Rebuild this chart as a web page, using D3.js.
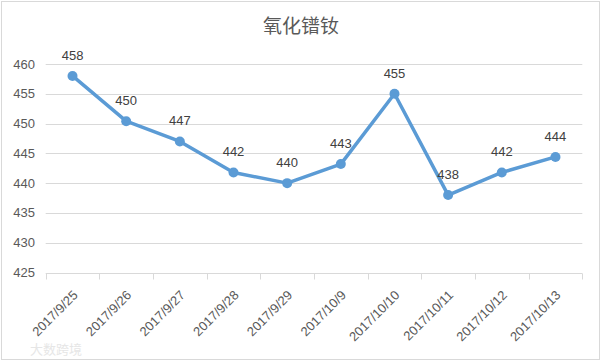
<!DOCTYPE html>
<html>
<head>
<meta charset="utf-8">
<script src="https://cdn.jsdelivr.net/npm/d3@7/dist/d3.min.js"></script>
<style>
  body { margin: 0; background: #fff; }
  svg text { font-family: "Liberation Sans", Arial, sans-serif; }
</style>
</head>
<body>
<div id="chart"></div>
<script>
// data
var dates = ["2017/9/25", "2017/9/26", "2017/9/27", "2017/9/28", "2017/9/29",
             "2017/10/9", "2017/10/10", "2017/10/11", "2017/10/12", "2017/10/13"];
var prices = [458, 450.4, 447, 441.8, 440, 443.2, 455, 438, 441.8, 444.4];
var yTicks = [425, 430, 435, 440, 445, 450, 455, 460];

var W = 602, H = 362;
var margin = {top: 64, right: 20, bottom: 90, left: 46};

var svg = d3.select("#chart").append("svg")
    .attr("width", W)
    .attr("height", H);

// outer border
svg.append("rect")
    .attr("x", 1.5).attr("y", 1.5)
    .attr("width", W - 4).attr("height", H - 4)
    .attr("fill", "#fff")
    .attr("stroke", "#d9d9d9");

var x = d3.scaleBand()
    .domain(dates)
    .range([45.7, 582.3])
    .padding(0);

var y = d3.scaleLinear()
    .domain([425, 460])
    .range([272.5, 64]);

// gridlines
svg.selectAll(".grid")
    .data(yTicks.slice(1))
  .enter().append("line")
    .attr("class", "grid")
    .attr("x1", x.range()[0])
    .attr("x2", x.range()[1])
    .attr("y1", function(d) { return Math.round(y(d)) + 0.5; })
    .attr("y2", function(d) { return Math.round(y(d)) + 0.5; })
    .attr("stroke", "#d9d9d9");

// y labels
svg.selectAll(".ylab")
    .data(yTicks)
  .enter().append("text")
    .attr("class", "ylab")
    .attr("x", 35)
    .attr("y", function(d) { return y(d) + 4.5; })
    .attr("text-anchor", "end")
    .style("font-size", "13px")
    .style("fill", "#595959")
    .text(function(d) { return d; });

// x axis line + ticks at category boundaries
var axisY = Math.round(y(425)) + 0.5;
svg.append("line")
    .attr("x1", x.range()[0]).attr("x2", x.range()[1])
    .attr("y1", axisY).attr("y2", axisY)
    .attr("stroke", "#d9d9d9");

var bounds = dates.map(function(d) { return x(d); }).concat([x.range()[1]]);
svg.selectAll(".xtick")
    .data(bounds)
  .enter().append("line")
    .attr("class", "xtick")
    .attr("x1", function(d) { return Math.round(d) + 0.5; })
    .attr("x2", function(d) { return Math.round(d) + 0.5; })
    .attr("y1", axisY)
    .attr("y2", axisY + 6)
    .attr("stroke", "#d9d9d9");

// rotated category labels
svg.selectAll(".xlab")
    .data(dates)
  .enter().append("text")
    .attr("class", "xlab")
    .attr("transform", function(d) {
      var cx = x(d) + x.bandwidth() / 2 + 6;
      return "translate(" + cx + ",296) rotate(-45)";
    })
    .attr("text-anchor", "end")
    .style("font-size", "13px")
    .style("fill", "#595959")
    .text(function(d) { return d; });

// line
var line = d3.line()
    .x(function(d, i) { return x(dates[i]) + x.bandwidth() / 2; })
    .y(function(d) { return y(d); });

svg.append("path")
    .datum(prices)
    .attr("d", line)
    .attr("fill", "none")
    .attr("stroke", "#5b9bd5")
    .attr("stroke-width", 3.5)
    .attr("stroke-linejoin", "round");

svg.selectAll(".dot")
    .data(prices)
  .enter().append("circle")
    .attr("class", "dot")
    .attr("r", 5)
    .attr("cx", function(d, i) { return x(dates[i]) + x.bandwidth() / 2; })
    .attr("cy", function(d) { return y(d); })
    .attr("fill", "#5b9bd5");

// data labels
svg.selectAll(".vlab")
    .data(prices)
  .enter().append("text")
    .attr("class", "vlab")
    .attr("x", function(d, i) { return x(dates[i]) + x.bandwidth() / 2; })
    .attr("y", function(d) { return y(d) - 16; })
    .attr("text-anchor", "middle")
    .style("font-size", "13px")
    .style("fill", "#404040")
    .text(function(d) { return Math.round(d); });

// title
svg.append("text")
    .attr("x", 301)
    .attr("y", 33)
    .attr("text-anchor", "middle")
    .style("font-family", "'Noto Sans CJK SC', sans-serif")
    .style("font-size", "19px")
    .style("fill", "#595959")
    .text("氧化镨钕");

// faint watermark
svg.append("text")
    .attr("x", 30)
    .attr("y", 354)
    .style("font-family", "'Noto Sans CJK SC', sans-serif")
    .style("font-size", "13px")
    .style("fill", "#e6e6e6")
    .text("大数跨境");
</script>
</body>
</html>
